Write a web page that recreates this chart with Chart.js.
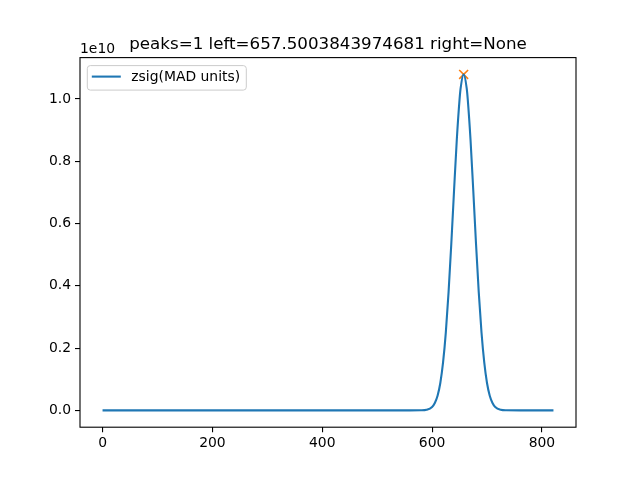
<!DOCTYPE html>
<html>
<head>
<meta charset="utf-8">
<script src="https://cdn.jsdelivr.net/npm/chart.js@4"></script>
<style>
  html, body { margin: 0; padding: 0; background: #fff; }
  canvas { display: block; }
</style>
</head>
<body>
<canvas id="chart" width="640" height="480"></canvas>
<script>
// values, y in units of 1e10
const titleText = "peaks=1 left=657.5003843974681 right=None";
const seriesLabel = "zsig(MAD units)";
const offsetLabel = "1e10";
const sigX = [0, 100, 200, 300, 400, 500, 560, 580, 590, 600, 605, 610, 615, 620, 625, 630, 635, 640, 645, 650, 652, 657.5,
  663, 665, 670, 675, 680, 685, 690, 695, 700, 705, 710, 715, 725, 735, 760, 821];
const sigY = [0, 0, 0, 0, 0, 0, 0, 0.0003, 0.002, 0.011, 0.024, 0.047, 0.088, 0.154, 0.250, 0.379, 0.535, 0.706, 0.869, 0.998, 1.035, 1.079,
  1.035, 0.998, 0.869, 0.706, 0.535, 0.379, 0.250, 0.154, 0.088, 0.047, 0.024, 0.011, 0.002, 0.0003, 0, 0];
const peakX = [657.5];
const peakY = [1.079];
const xTicks = [0, 200, 400, 600, 800];
const yTicks = [0, 0.2, 0.4, 0.6, 0.8, 1.0];

const font = '"DejaVu Sans", sans-serif';

const decor = {
  id: "decor",
  afterDraw(chart) {
    const { ctx, chartArea: a } = chart;
    ctx.save();
    ctx.strokeStyle = "#000";
    ctx.lineWidth = 1.1;
    ctx.strokeRect(a.left, a.top, a.right - a.left, a.bottom - a.top);

    ctx.fillStyle = "#000";
    ctx.textBaseline = "alphabetic";
    ctx.font = "16.7px " + font;
    ctx.textAlign = "center";
    ctx.fillText(titleText, (a.left + a.right) / 2, a.top - 8.3);

    ctx.font = "13.9px " + font;
    ctx.textAlign = "left";
    ctx.fillText(offsetLabel, a.left, a.top - 5);

    // legend box
    const lx = a.left + 7.3, ly = a.top + 8, lw = 159, lh = 24.5;
    ctx.beginPath();
    ctx.roundRect(lx, ly, lw, lh, 3);
    ctx.fillStyle = "rgba(255,255,255,0.8)";
    ctx.fill();
    ctx.strokeStyle = "#cccccc";
    ctx.lineWidth = 1;
    ctx.stroke();
    ctx.beginPath();
    ctx.moveTo(lx + 4.5, ly + 11);
    ctx.lineTo(lx + 33.5, ly + 11);
    ctx.strokeStyle = "#1f77b4";
    ctx.lineWidth = 2.1;
    ctx.stroke();
    ctx.fillStyle = "#000";
    ctx.textBaseline = "middle";
    ctx.fillText(seriesLabel, lx + 44, ly + 11.5);
    ctx.restore();
  }
};

const tickGrid = { display: true, drawOnChartArea: false, drawTicks: true, tickLength: 5, color: "#000", lineWidth: 1.1 };

new Chart(document.getElementById("chart").getContext("2d"), {
  type: "line",
  data: {
    datasets: [
      {
        label: seriesLabel,
        data: sigX.map((x, i) => ({ x, y: sigY[i] })),
        borderColor: "#1f77b4",
        borderWidth: 2.1,
        pointRadius: 0,
        fill: false,
        cubicInterpolationMode: "monotone",
      },
      {
        label: "peak",
        data: peakX.map((x, i) => ({ x, y: peakY[i] })),
        showLine: false,
        pointStyle: "crossRot",
        pointRadius: 6.3,
        borderColor: "#ff7f0e",
        backgroundColor: "#ff7f0e",
        pointBorderWidth: 1.6,
      },
    ],
  },
  options: {
    responsive: false,
    animation: false,
    layout: { padding: { left: 0, top: 57.6, right: 64, bottom: 0 } },
    plugins: { legend: { display: false }, title: { display: false }, tooltip: { enabled: false } },
    scales: {
      x: {
        type: "linear",
        min: -41.05,
        max: 862.05,
        border: { display: false },
        grid: tickGrid,
        afterBuildTicks: (s) => { s.ticks = xTicks.map((v) => ({ value: v })); },
        afterFit: (s) => { s.height = 52.8; },
        ticks: { color: "#000", padding: 3, maxRotation: 0, font: { family: font, size: 13.9 }, callback: (v) => String(v) },
      },
      y: {
        type: "linear",
        min: -0.05395,
        max: 1.13295,
        border: { display: false },
        grid: tickGrid,
        afterBuildTicks: (s) => { s.ticks = yTicks.map((v) => ({ value: v })); },
        afterFit: (s) => { s.width = 80; },
        ticks: { color: "#000", padding: 4, font: { family: font, size: 13.9 }, callback: (v) => v.toFixed(1) },
      },
    },
  },
  plugins: [decor],
});
</script>
</body>
</html>
